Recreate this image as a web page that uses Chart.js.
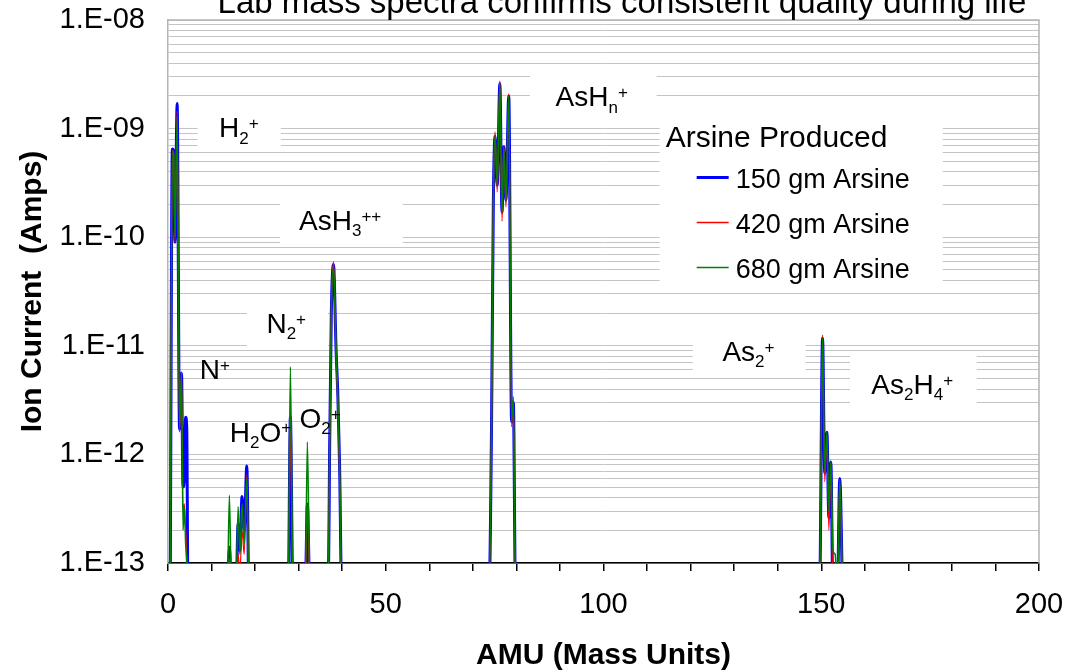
<!DOCTYPE html>
<html>
<head>
<meta charset="utf-8">
<title>Lab mass spectra</title>
<script src="https://cdn.jsdelivr.net/npm/chart.js@4.4.0/dist/chart.umd.min.js"></script>
<style>
  html, body { margin: 0; padding: 0; background: #fff; }
  #specChart { display: block; }
</style>
</head>
<body>
<canvas id="specChart" width="1077" height="671"></canvas>
<script>
// --- Spectrum data ---
// 5e-14 is below the 1E-13 floor, so the baseline sits hidden under the axis.
const amu = [
  0.5, 1.0, 1.3, 1.6, 2.1, 2.65, 3.1, 3.45, 3.75, 4.05, 4.3, 4.6,
  13.6, 14.1, 14.6, 15.6, 16.1, 16.5, 17.0, 17.5, 18.1, 18.6,
  27.6, 28.1, 28.7,
  31.5, 32.0, 32.6,
  36.8, 37.1, 37.5, 38.0, 38.6, 39.0, 39.4, 39.9,
  73.7, 74.3, 74.7, 75.1, 75.6, 76.2, 76.7, 77.1, 77.6, 78.25, 78.9, 79.3, 79.8,
  149.6, 150.3, 150.8, 151.3, 151.75, 152.2, 152.7, 153.2, 153.7, 154.25, 154.9
];

const arsine150 = [
  5e-14, 6.5e-10, 6.2e-10, 9e-11, 1.7e-9, 1.7e-12, 5.6e-12, 5e-13, 6e-13, 2.2e-12, 1.8e-12, 5e-14,
  5e-14, 1.4e-13, 5e-14, 5e-14, 2.3e-13, 1.3e-13, 4.1e-13, 2.0e-13, 7.8e-13, 5e-14,
  5e-14, 2.2e-12, 5e-14,
  5e-14, 3.5e-13, 5e-14,
  5e-14, 1e-12, 2e-11, 5.6e-11, 9e-12, 3.5e-12, 8e-13, 5e-14,
  5e-14, 2e-12, 2e-10, 8.5e-10, 3.0e-10, 2.6e-9, 1.7e-10, 6.8e-10, 2.2e-10, 2.0e-9, 2.0e-12, 3.0e-12, 5e-14,
  5e-14, 1.18e-11, 6.7e-13, 1.6e-12, 2.6e-13, 8.5e-13, 5e-14, 5e-14, 5e-14, 6e-13, 5e-14
];

const arsine420 = [
  5e-14, 6.3e-10, 6.0e-10, 9e-11, 1.45e-9, 1.6e-12, 5.8e-12, 3e-13, 3.5e-13, 2e-13, 1.2e-13, 5e-14,
  5e-14, 1.1e-13, 5e-14, 5e-14, 1.2e-13, 8e-14, 2.0e-13, 1.2e-13, 6.5e-13, 5e-14,
  5e-14, 1.8e-12, 5e-14,
  5e-14, 3.3e-13, 5e-14,
  5e-14, 1e-12, 2e-11, 6.0e-11, 8e-12, 3e-12, 7e-13, 5e-14,
  5e-14, 2e-12, 2e-10, 9.4e-10, 2.6e-10, 2.75e-9, 1.4e-10, 6.9e-10, 1.9e-10, 2.1e-9, 1.8e-12, 3.2e-12, 5e-14,
  5e-14, 1.26e-11, 5.6e-13, 1.5e-12, 2e-13, 8.3e-13, 5e-14, 5e-14, 5e-14, 5.4e-13, 5e-14
];

const arsine680 = [
  5e-14, 6.2e-10, 5.8e-10, 1.0e-10, 1.3e-9, 1.8e-12, 5.6e-12, 2e-13, 3.3e-13, 1.5e-13, 1e-13, 5e-14,
  5e-14, 4.2e-13, 5e-14, 5e-14, 3.3e-13, 1.2e-13, 3.5e-13, 1.5e-13, 6e-13, 5e-14,
  5e-14, 6.4e-12, 5e-14,
  5e-14, 1.3e-12, 5e-14,
  5e-14, 1e-12, 2e-11, 5.5e-11, 9e-12, 3.2e-12, 8e-13, 5e-14,
  5e-14, 2e-12, 2e-10, 8.8e-10, 3.0e-10, 2.65e-9, 1.7e-10, 6.6e-10, 2.1e-10, 2.0e-9, 2.0e-12, 3.4e-12, 5e-14,
  5e-14, 1.2e-11, 7e-13, 1.6e-12, 3e-13, 8.5e-13, 1.3e-13, 1.2e-13, 5e-14, 5.8e-13, 5e-14
];

const seriesNames = ['150 gm Arsine', '420 gm Arsine', '680 gm Arsine'];
const xTickLabels = [0, 50, 100, 150, 200];
const yDecades = [-13, -12, -11, -10, -9, -8];

// peak annotations: text parts, text start (AMU, amps) and optional white box [x0, x1, yTop, yBottom]
const peakLabels = [
  { parts: [['H'], ['2', 'sub'], ['+', 'sup']], x: 11.7, y: 8.3e-10, box: [6.8, 25.9, 1.5e-9, 6.3e-10] },
  { parts: [['AsH'], ['3', 'sub'], ['++', 'sup']], x: 30.1, y: 1.16e-10, box: [25.7, 53.9, 2.4e-10, 8.35e-11] },
  { parts: [['N'], ['2', 'sub'], ['+', 'sup']], x: 22.6, y: 1.31e-11, box: [18.1, 36.7, 2.65e-11, 9.6e-12] },
  { parts: [['N'], ['+', 'sup']], x: 7.3, y: 4.9e-12 },
  { parts: [['H'], ['2', 'sub'], ['O'], ['+', 'sup']], x: 14.2, y: 1.31e-12 },
  { parts: [['O'], ['2', 'sub'], ['+', 'sup']], x: 30.2, y: 1.74e-12 },
  { parts: [['AsH'], ['n', 'sub'], ['+', 'sup']], x: 89.0, y: 1.6e-9, box: [83.1, 112.2, 3.5e-9, 1.32e-9] },
  { parts: [['As'], ['2', 'sub'], ['+', 'sup']], x: 127.3, y: 7.2e-12, box: [120.5, 146.4, 1.4e-11, 5.5e-12] },
  { parts: [['As'], ['2', 'sub'], ['H'], ['4', 'sub'], ['+', 'sup']], x: 161.5, y: 3.6e-12, box: [156.6, 185.7, 8.8e-12, 2.6e-12] }
];

const legendBox = [112.9, 177.9, 1.35e-9, 3.57e-11];

const FONT = '"Liberation Sans", Arial, sans-serif';
const colors = ['#0000ff', '#ff0000', '#008000'];
const widths = [3, 1.2, 1.5];

// minor + major gridline positions on the log axis
const yTickValues = [];
yDecades.forEach(e => {
  const top = e === yDecades[yDecades.length - 1];
  for (let m = 1; m <= (top ? 1 : 9); m++) yTickValues.push(m * Math.pow(10, e));
});

function drawRich(ctx, parts, x, y, size) {
  let cx = x;
  parts.forEach(([txt, kind]) => {
    const s = kind ? Math.round(size * 0.62) : size;
    const dy = kind === 'sub' ? size * 0.22 : kind === 'sup' ? -size * 0.3 : 0;
    ctx.font = s + 'px ' + FONT;
    ctx.fillText(txt, cx, y + dy);
    cx += ctx.measureText(txt).width;
  });
}

const overlayPlugin = {
  id: 'overlay',
  afterDatasetsDraw(chart) {
    const { ctx, chartArea: a, scales: { x, y } } = chart;
    ctx.save();

    // grey frame on top and right
    ctx.strokeStyle = '#b4b4b4';
    ctx.lineWidth = 1.5;
    ctx.beginPath();
    ctx.moveTo(a.left, a.top);
    ctx.lineTo(a.right, a.top);
    ctx.lineTo(a.right, a.bottom);
    ctx.stroke();

    ctx.textAlign = 'left';
    ctx.textBaseline = 'alphabetic';
    peakLabels.forEach(l => {
      if (l.box) {
        const x0 = x.getPixelForValue(l.box[0]), x1 = x.getPixelForValue(l.box[1]);
        const y0 = y.getPixelForValue(l.box[2]), y1 = y.getPixelForValue(l.box[3]);
        ctx.fillStyle = '#fff';
        ctx.fillRect(x0, y0, x1 - x0, y1 - y0);
      }
      ctx.fillStyle = '#000';
      drawRich(ctx, l.parts, x.getPixelForValue(l.x), y.getPixelForValue(l.y), 28);
    });

    // legend
    const lx = x.getPixelForValue(legendBox[0]), rx = x.getPixelForValue(legendBox[1]);
    const ty = y.getPixelForValue(legendBox[2]), by = y.getPixelForValue(legendBox[3]);
    ctx.fillStyle = '#fff';
    ctx.fillRect(lx, ty, rx - lx, by - ty);
    ctx.fillStyle = '#000';
    ctx.font = '30px ' + FONT;
    ctx.fillText('Arsine Produced', lx + 6, ty + 33);
    seriesNames.forEach((name, i) => {
      const sy = ty + 63 + i * 45;
      ctx.strokeStyle = colors[i];
      ctx.lineWidth = i === 0 ? 3 : 1.5;
      ctx.beginPath();
      ctx.moveTo(lx + 37, sy);
      ctx.lineTo(lx + 69, sy);
      ctx.stroke();
      ctx.fillStyle = '#000';
      ctx.font = '27px ' + FONT;
      ctx.fillText(name, lx + 76, sy + 11);
    });

    ctx.restore();
  },
  afterDraw(chart) {
    const ctx = chart.ctx;
    ctx.save();
    ctx.fillStyle = '#000';
    ctx.font = '33px ' + FONT;
    ctx.textAlign = 'center';
    ctx.textBaseline = 'alphabetic';
    ctx.fillText('Lab mass spectra confirms consistent quality during life', 622, 13);
    ctx.restore();
  }
};

document.addEventListener('DOMContentLoaded', function () {
  if (typeof Chart === 'undefined') {
    console.warn('Chart.js library not found — cannot render chart.');
    return;
  }
  const ctx = document.getElementById('specChart').getContext('2d');

  const series = [arsine150, arsine420, arsine680];
  const datasets = series.map((vals, i) => ({
    label: seriesNames[i],
    data: amu.map((m, j) => ({ x: m, y: vals[j] })),
    borderColor: colors[i],
    backgroundColor: colors[i],
    borderWidth: widths[i],
    pointRadius: 0,
    fill: false,
    tension: 0.4,
    cubicInterpolationMode: 'monotone',
    order: 3 - i   // blue underneath, green on top
  }));

  window.specChart = new Chart(ctx, {
    type: 'line',
    data: { datasets },
    plugins: [overlayPlugin],
    options: {
      responsive: false,
      animation: false,
      events: [],
      layout: { padding: { top: 20, right: 38, bottom: 0, left: 0 } },
      plugins: { legend: { display: false }, title: { display: false }, tooltip: { enabled: false } },
      scales: {
        x: {
          type: 'linear',
          min: 0,
          max: 200,
          afterFit: s => { s.height = 108; s.paddingLeft = 0; s.paddingRight = 0; },
          ticks: {
            stepSize: 10,
            autoSkip: false,
            maxRotation: 0,
            padding: 17,
            color: '#000',
            font: { family: FONT, size: 29 },
            callback: v => (xTickLabels.includes(v) ? String(v) : '')
          },
          grid: { drawOnChartArea: false, drawTicks: true, tickLength: 8, color: '#000', lineWidth: 1.5 },
          border: { display: true, color: '#000', width: 1.5 },
          title: {
            display: true,
            text: 'AMU (Mass Units)',
            color: '#000',
            font: { family: FONT, size: 30, weight: 'bold' },
            padding: -3
          }
        },
        y: {
          type: 'logarithmic',
          min: 1e-13,
          max: 1e-8,
          afterFit: s => { s.width = 168; s.paddingTop = 0; s.paddingBottom = 0; },
          afterBuildTicks: s => { s.ticks = yTickValues.map(v => ({ value: v })); },
          ticks: {
            autoSkip: false,
            padding: 23,
            color: '#000',
            font: { family: FONT, size: 29 },
            callback: v => {
              const e = Math.log10(v);
              if (Math.abs(e - Math.round(e)) > 1e-6) return '';
              return '1.E-' + String(-Math.round(e)).padStart(2, '0');
            }
          },
          grid: { color: '#c4c4c4', lineWidth: 1, drawTicks: false },
          border: { display: true, color: '#b4b4b4', width: 1.5 },
          title: {
            display: true,
            text: 'Ion Current  (Amps)',
            color: '#000',
            font: { family: FONT, size: 30, weight: 'bold' },
            padding: 15
          }
        }
      }
    }
  });
});
</script>
</body>
</html>
